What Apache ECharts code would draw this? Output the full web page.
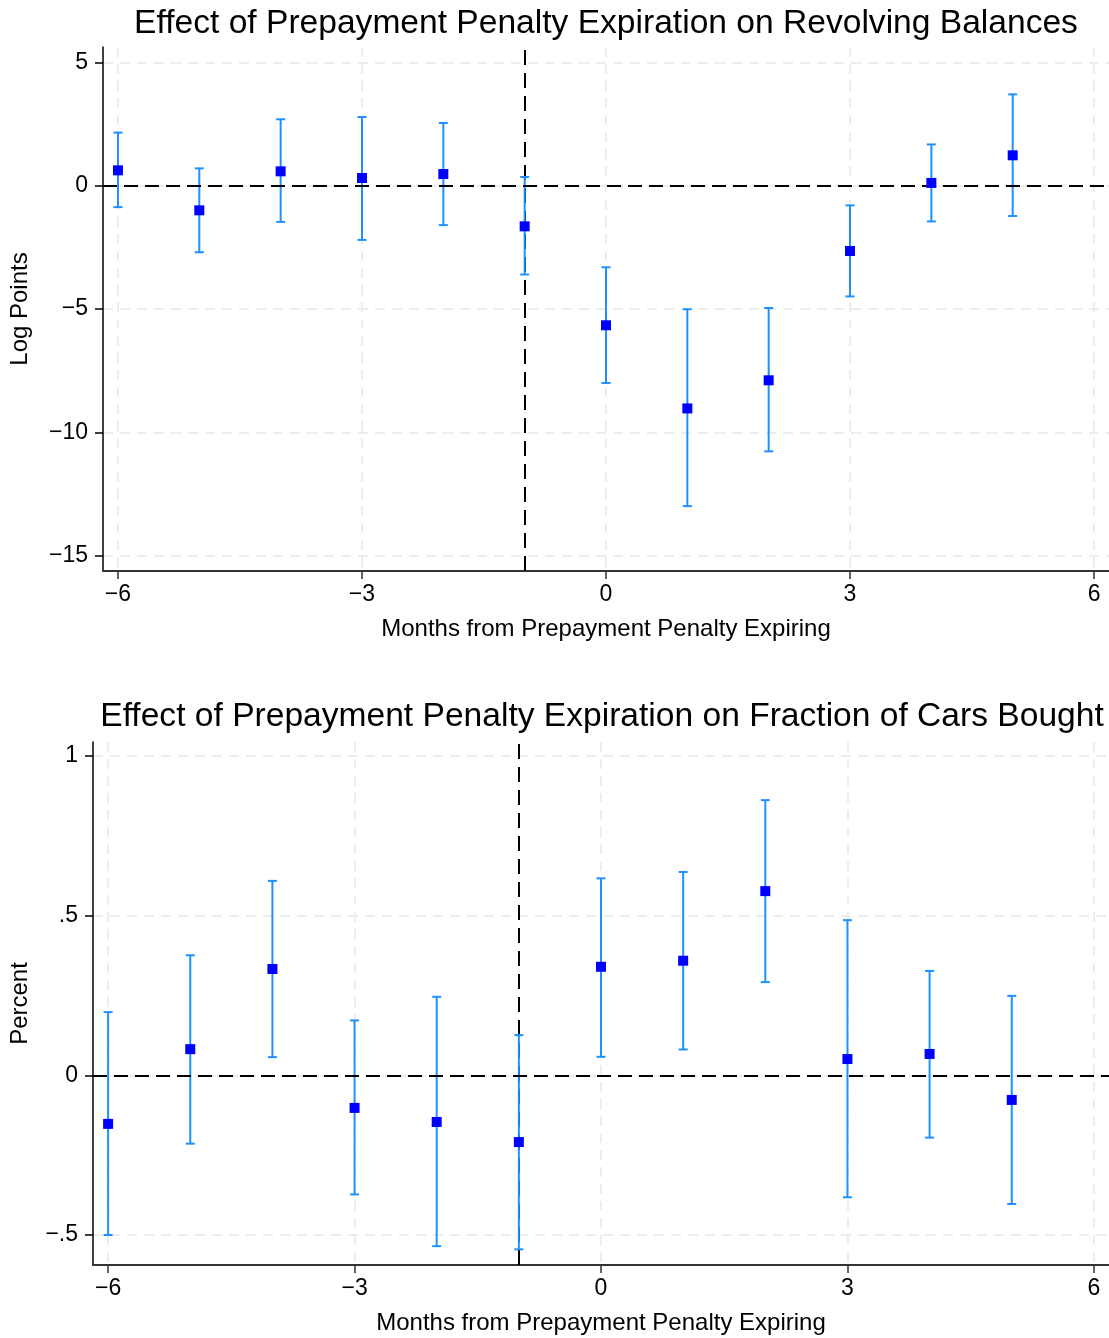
<!DOCTYPE html>
<html>
<head>
<meta charset="utf-8">
<title>Prepayment penalty expiration</title>
<script src="https://cdn.jsdelivr.net/npm/echarts@6/dist/echarts.min.js"></script>
<style>
  html, body { margin: 0; padding: 0; background: #fff; }
  #chart { width: 1109px; height: 1338px; }
</style>
</head>
<body>
<div id="chart"></div>
<script>
// months relative to the penalty expiring
var months = [-6, -5, -4, -3, -2, -1, 0, 1, 2, 3, 4, 5];

// revolving balances, log points
var rbPoint = [0.62, -1.0, 0.58, 0.31, 0.47, -1.65, -5.66, -9.03, -7.89, -2.65, 0.11, 1.23];
var rbUpper = [2.15, 0.70, 2.69, 2.78, 2.54, 0.35, -3.31, -5.01, -4.96, -0.80, 1.67, 3.70];
var rbLower = [-0.87, -2.70, -1.47, -2.20, -1.60, -3.60, -8.00, -12.99, -10.77, -4.49, -1.45, -1.23];

// fraction of cars bought, percent
var carsPoint = [-0.152, 0.082, 0.333, -0.102, -0.146, -0.209, 0.340, 0.359, 0.577, 0.051, 0.067, -0.077];
var carsUpper = [0.198, 0.376, 0.609, 0.172, 0.246, 0.126, 0.617, 0.637, 0.862, 0.486, 0.327, 0.249];
var carsLower = [-0.500, -0.214, 0.057, -0.373, -0.535, -0.545, 0.058, 0.081, 0.292, -0.382, -0.195, -0.403];

// tick labels
var monthTicks = [-6, -3, 0, 3, 6];
var rbTicks = [-15, -10, -5, 0, 5];
var carsTicks = [-0.5, 0, 0.5, 1];

var FONT = "'Liberation Sans', Arial, Helvetica, sans-serif";
var BAR = '#1e90ff';
var MARK = '#0000ff';

function stataNum(v) {
  var s = String(v).replace(/^(-?)0\./, '$1.');
  return s.replace('-', '\u2212');
}

function errorBar(params, api) {
  var x = api.value(0);
  var top = api.coord([x, api.value(2)]);
  var bot = api.coord([x, api.value(1)]);
  var cap = 4.5;
  var st = { stroke: BAR, lineWidth: 2 };
  return {
    type: 'group',
    children: [
      { type: 'line', shape: { x1: top[0], y1: top[1], x2: bot[0], y2: bot[1] }, style: st },
      { type: 'line', shape: { x1: top[0] - cap, y1: top[1], x2: top[0] + cap, y2: top[1] }, style: st },
      { type: 'line', shape: { x1: bot[0] - cap, y1: bot[1], x2: bot[0] + cap, y2: bot[1] }, style: st }
    ]
  };
}

function xAxisFor(gridIndex) {
  return {
    type: 'value',
    gridIndex: gridIndex,
    min: -6.184,
    max: 6.184,
    name: 'Months from Prepayment Penalty Expiring',
    nameLocation: 'middle',
    nameGap: 46,
    nameTextStyle: { fontSize: 24, color: '#000', fontFamily: FONT },
    axisLine: { show: true, onZero: false, lineStyle: { color: '#333', width: 2 } },
    axisTick: { show: true, length: 8, customValues: monthTicks, lineStyle: { color: '#333', width: 1.5 } },
    axisLabel: { customValues: monthTicks, margin: 12, fontSize: 23, color: '#000', fontFamily: FONT, formatter: stataNum },
    splitLine: { show: true, lineStyle: { color: '#ededed', width: 2, type: [10, 7] } }
  };
}

function yAxisFor(gridIndex, lo, hi, ticks, name, gap) {
  return {
    type: 'value',
    gridIndex: gridIndex,
    min: lo,
    max: hi,
    name: name,
    nameLocation: 'middle',
    nameGap: gap,
    nameTextStyle: { fontSize: 24, color: '#000', fontFamily: FONT },
    axisLine: { show: true, onZero: false, lineStyle: { color: '#000', width: 1.5 } },
    axisTick: { show: true, length: 8, customValues: ticks, lineStyle: { color: '#000', width: 1.5 } },
    axisLabel: { customValues: ticks, margin: 15, fontSize: 23, color: '#000', fontFamily: FONT, formatter: stataNum },
    splitLine: { show: true, lineStyle: { color: '#ededed', width: 2, type: [10, 7] } }
  };
}

function barData(lower, upper) {
  return months.map(function (m, i) { return [m, lower[i], upper[i]]; });
}
function pointData(vals) {
  return months.map(function (m, i) { return [m, vals[i]]; });
}

// dashed reference line, held by an empty line series so it can be layered
function refLine(axisIndex, spec, dash, z) {
  return {
    type: 'line', xAxisIndex: axisIndex, yAxisIndex: axisIndex, data: [], z: z,
    markLine: {
      z: z, silent: true, symbol: 'none', label: { show: false },
      lineStyle: { color: '#000', width: 2, type: dash },
      data: [spec]
    }
  };
}

function panelSeries(idx, lower, upper, point) {
  return [
    refLine(idx, { xAxis: -1 }, [15, 8], 1),
    {
      type: 'custom', xAxisIndex: idx, yAxisIndex: idx,
      renderItem: errorBar, encode: { x: 0, y: [1, 2] },
      data: barData(lower, upper), z: 2
    },
    refLine(idx, { yAxis: 0 }, [14, 7], 3),
    {
      type: 'scatter', xAxisIndex: idx, yAxisIndex: idx,
      symbol: 'rect', symbolSize: 10, itemStyle: { color: MARK, opacity: 1 },
      data: pointData(point), z: 4
    }
  ];
}

var chart = echarts.init(document.getElementById('chart'));
chart.setOption({
  animation: false,
  textStyle: { fontFamily: FONT },
  title: [
    {
      text: 'Effect of Prepayment Penalty Expiration on Revolving Balances',
      left: 601, top: 2, textAlign: 'center',
      textStyle: { fontSize: 33.6, fontWeight: 'normal', color: '#000', fontFamily: FONT }
    },
    {
      text: 'Effect of Prepayment Penalty Expiration on Fraction of Cars Bought',
      left: 597, top: 695, textAlign: 'center',
      textStyle: { fontSize: 33.6, fontWeight: 'normal', color: '#000', fontFamily: FONT }
    }
  ],
  grid: [
    { left: 103, top: 47, width: 1006, height: 524, outerBoundsMode: 'none' },
    { left: 93, top: 742, width: 1016, height: 523, outerBoundsMode: 'none' }
  ],
  xAxis: [xAxisFor(0), xAxisFor(1)],
  yAxis: [
    yAxisFor(0, -15.62, 5.62, rbTicks, 'Log Points', 71),
    yAxisFor(1, -0.594, 1.044, carsTicks, 'Percent', 61)
  ],
  series: panelSeries(0, rbLower, rbUpper, rbPoint)
    .concat(panelSeries(1, carsLower, carsUpper, carsPoint))
});
</script>
</body>
</html>
